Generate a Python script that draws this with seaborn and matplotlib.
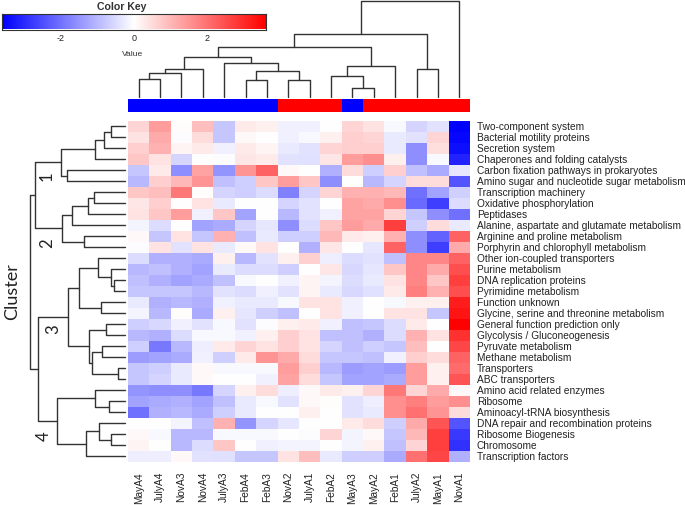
"""clustered heatmap of KEGG categories with dendrograms, seaborn version"""
import matplotlib
matplotlib.use("Agg")
import matplotlib.pyplot as plt
from matplotlib.colors import ListedColormap
import numpy as np
import pandas as pd
import seaborn as sns

sns.set_style("white")
plt.rcParams["font.family"] = ["Liberation Sans", "DejaVu Sans"]
plt.rcParams["axes.unicode_minus"] = False

# ---- data ----
samples = ["MayA4", "JulyA4", "NovA3", "NovA4", "JulyA3", "FebA4", "FebA3", "NovA2",
           "JulyA1", "FebA2", "MayA3", "MayA2", "FebA1", "JulyA2", "MayA1", "NovA1"]
sample_group = [0, 0, 0, 0, 0, 0, 0, 1, 1, 1, 0, 1, 1, 1, 1, 1]  # 0 blue, 1 red

pathways = [
    "Two-component system", "Bacterial motility proteins", "Secretion system",
    "Chaperones and folding catalysts", "Carbon fixation pathways in prokaryotes",
    "Amino sugar and nucleotide sugar metabolism", "Transcription machinery",
    "Oxidative phosphorylation", "Peptidases",
    "Alanine, aspartate and glutamate metabolism", "Arginine and proline metabolism",
    "Porphyrin and chlorophyll metabolism", "Other ion-coupled transporters",
    "Purine metabolism", "DNA replication proteins", "Pyrimidine metabolism",
    "Function unknown", "Glycine, serine and threonine metabolism",
    "General function prediction only", "Glycolysis / Gluconeogenesis",
    "Pyruvate metabolism", "Methane metabolism", "Transporters", "ABC transporters",
    "Amino acid related enzymes", "Ribosome", "Aminoacyl-tRNA biosynthesis",
    "DNA repair and recombination proteins", "Ribosome Biogenesis", "Chromosome",
    "Transcription factors",
]

zscores = [
    [0.6, 1.4, 0.05, 0.9, -0.8, 0.3, 0.2, -0.2, -0.2, 0.0, 0.6, 0.4, -0.1, -0.6, -0.4, -3.6],
    [0.4, 1.2, -0.05, 0.5, -0.8, 0.1, 0.0, -0.2, -0.1, 0.2, 0.7, 0.6, -0.3, -0.4, 0.6, -3.5],
    [0.7, 1.1, 0.15, 0.3, -0.2, 0.3, 0.15, -0.3, -0.4, 0.6, 0.7, 0.7, -0.3, -1.6, 0.45, -3.4],
    [0.8, 0.4, -0.6, 0.0, -0.05, 0.35, 0.3, -0.4, -0.45, 0.35, 1.4, 1.6, 0.2, -1.6, -0.1, -3.1],
    [-0.8, 0.3, -1.6, 1.3, -1.5, 1.5, 2.2, 0.1, 0.0, -1.1, 0.5, -0.7, 0.7, -0.9, -1.2, -0.35],
    [-1.0, 0.7, 1.0, 1.5, -0.9, -0.7, 0.8, 1.4, 0.8, -1.6, 0.0, -1.0, -0.6, 0.5, 0.5, -2.4],
    [0.8, 0.9, 1.9, 0.05, -0.6, -0.7, -0.5, -1.8, -0.6, 0.6, 1.1, 1.1, 1.0, -2.0, -1.3, -0.65],
    [0.35, 0.7, 0.02, 0.4, -0.3, 0.0, 0.0, -0.6, -0.4, 0.0, 1.3, 1.2, 1.6, -2.1, -2.7, -0.5],
    [0.4, 0.8, 1.4, -0.2, 0.8, -1.3, 0.0, -1.0, -0.4, -0.2, 1.3, 1.3, 0.6, -0.8, -1.6, -2.0],
    [-0.15, -0.5, 0.0, -1.3, -1.2, -0.6, -0.35, -1.6, -0.5, 0.8, 1.4, 1.2, 2.7, -0.7, 0.5, -0.3],
    [0.1, -0.8, 0.4, -0.8, 1.1, -0.9, -0.3, -0.7, -0.7, 1.0, 0.3, 0.2, 1.1, -1.6, -2.2, 2.2],
    [-0.05, 0.4, -0.4, 0.4, -0.3, 0.1, 0.4, 0.0, -1.1, 0.35, 0.0, -0.35, 2.2, -1.6, -2.7, 1.2],
    [-0.5, -1.1, -1.1, -1.2, 0.2, -1.0, -0.4, 0.2, 0.65, -0.25, -0.5, -0.4, -0.9, 1.7, 1.7, 2.2],
    [-1.0, -0.9, -1.1, -1.3, -0.3, -0.5, -0.5, -0.7, 0.0, 0.35, -0.55, -0.35, 0.8, 1.7, 1.2, 2.5],
    [-0.9, -1.1, -1.3, -1.2, -0.9, -0.1, 0.0, -0.2, 0.15, -0.15, -0.5, -0.3, 0.4, 1.7, 0.8, 2.7],
    [-0.8, -0.8, -0.8, -1.0, -0.4, -0.5, -0.2, -0.4, 0.15, -0.3, -0.55, -0.45, 0.3, 1.8, 1.1, 2.5],
    [-0.3, -1.1, -1.0, -1.1, -0.2, -0.3, -0.3, -0.1, 0.4, 0.4, -0.2, 0.0, -0.1, 0.2, 0.2, 3.2],
    [-0.15, -1.0, 0.05, -1.2, 0.2, -0.35, -0.7, -0.9, 0.0, 0.4, -0.2, 0.0, 0.4, 0.4, -0.8, 3.3],
    [-0.7, -0.55, -0.2, -0.4, -0.1, -0.4, -0.05, 0.2, 0.3, -0.2, -0.9, -0.8, -0.5, 0.3, 0.0, 3.6],
    [-1.0, -1.1, -0.5, -0.1, -0.1, -0.2, 0.2, 0.7, 0.4, -0.9, -0.9, -1.1, -0.5, 1.1, 0.4, 2.9],
    [-0.7, -1.9, -1.0, -0.25, 0.3, 0.6, 0.4, 0.7, 0.4, -0.6, -0.9, -0.7, -0.8, 0.9, 0.0, 2.6],
    [-1.4, -1.3, -1.2, -0.2, -0.7, 0.3, 1.5, 1.2, 0.5, -0.8, -0.8, -0.9, -0.2, 0.7, 0.5, 2.2],
    [-0.8, -0.7, -0.3, 0.1, -0.1, -0.1, -0.1, 1.4, 0.7, -1.0, -1.4, -1.3, -1.4, 1.4, 0.2, 2.1],
    [-0.8, -0.6, -0.3, 0.1, 0.0, 0.0, -0.2, 1.3, 0.5, -0.8, -1.3, -1.3, -1.2, 1.4, 0.2, 2.4],
    [-1.5, -1.6, -1.6, -1.9, -0.6, 0.2, 0.5, -0.25, 0.1, 0.3, 0.2, 0.6, 1.9, 0.6, 1.2, 0.1],
    [-1.3, -1.2, -1.1, -1.3, -0.9, -0.3, -0.1, -0.4, 0.1, 0.05, -0.4, -0.25, 1.6, 1.8, 1.4, 1.6],
    [-2.0, -1.1, -1.0, -1.2, -0.7, -0.3, 0.0, 0.0, 0.2, 0.0, -0.4, -0.3, 1.6, 2.0, 1.5, 0.5],
    [0.0, 0.0, -0.15, -0.9, 1.1, -1.5, -0.6, -0.35, 0.0, 0.0, 0.3, 0.5, -0.7, 1.2, 2.4, -2.4],
    [0.1, -0.1, -1.0, -1.0, -0.1, -0.1, -0.1, 0.0, -0.05, 0.6, -0.15, 0.1, -0.8, 1.0, 2.7, -2.8],
    [0.15, 0.0, -1.0, -0.5, 0.8, 0.0, -0.2, -0.15, -0.15, 0.0, -0.15, 0.2, -0.9, 0.6, 2.7, -2.9],
    [-0.25, -0.25, 0.1, -0.4, -0.45, -0.8, -0.8, 0.4, 0.9, -0.3, -0.7, -0.7, -1.2, 2.0, 2.6, -1.1],
]

# dendrograms as (left, right, merge height); ints are leaf positions
col_tree = (
    (
        (
            ((((0, 1, 18), 2, 23.3), 3, 27.7),
             (4, ((5, 6, 16.7), (7, 8, 16.7), 25.7), 34), 40),
            ((9, (10, 11, 9), 21), 12, 31), 49.3),
        (13, 14, 27.7), 62.7),
    15, 95.7)

row_tree = (
    (
        ((((0, 1, 14), 2, 20.7), 3, 30), (4, 5, 58.3), 64.3),
        (((((6, 7, 31), 8, 37.3), 9, 53.3)), (10, 11, 40.7), 63.3),
        90),
    (
        (((12, (13, (14, 15, 10.7), 14), 27.3), (16, 17, 24), 46),
         ((18, 19, 19), ((20, 21, 23.3), (22, 23, 6.7), 33.3), 35.7), 56.7),
        ((24, (25, 26, 15.7), 30), ((27, (28, 29, 14), 26), 30, 39.3), 67.7),
        86.7),
    95)

cluster_ids = ["1", "2", "3", "4"]
cluster_pos = [(47, 176), (47.5, 243), (53, 329), (44, 436)]

W, H = 685, 505
LINE = "#333333"


def px_axes(fig, x0, y0, x1, y1):
    """axes from pixel box (left, top, right, bottom)"""
    return fig.add_axes([x0 / W, 1 - y1 / H, (x1 - x0) / W, (y1 - y0) / H])


def draw_tree(ax, node, orient):
    """draw a dendrogram node, returns (position, height)"""
    if isinstance(node, int):
        return node + 0.5, 0.0
    left, right, h = node
    p1, h1 = draw_tree(ax, left, orient)
    p2, h2 = draw_tree(ax, right, orient)
    if orient == "top":
        ax.plot([p1, p1, p2, p2], [h1, h, h, h2], color=LINE, lw=1.0, clip_on=False)
    else:
        ax.plot([h1, h, h, h2], [p1, p1, p2, p2], color=LINE, lw=1.0, clip_on=False)
    return (p1 + p2) / 2, h


fig = plt.figure(figsize=(W / 100, H / 100), dpi=100)

# main heatmap
df = pd.DataFrame(zscores, index=pathways, columns=samples)
ax_hm = px_axes(fig, 128, 120.5, 470, 461.5)
sns.heatmap(df, ax=ax_hm, cmap="bwr", vmin=-3.6, vmax=3.6, cbar=False,
            xticklabels=True, yticklabels=True)
ax_hm.yaxis.tick_right()
ax_hm.set_yticklabels(pathways, rotation=0, fontsize=7.3, color="#222222")
ax_hm.set_xticklabels(samples, rotation=90, fontsize=7.3, color="#222222")
ax_hm.tick_params(axis="y", length=0, pad=5)
ax_hm.tick_params(axis="x", length=0, pad=7.5)
ax_hm.set_xlabel("")
ax_hm.set_ylabel("")

# column side colours
ax_cc = px_axes(fig, 128, 99, 470, 112)
sns.heatmap(pd.DataFrame([sample_group], columns=samples), ax=ax_cc,
            cmap=ListedColormap(["#0000ff", "#ff0000"]), vmin=0, vmax=1,
            cbar=False, xticklabels=False, yticklabels=False)

# column dendrogram
ax_cd = px_axes(fig, 128, 0, 470, 96.7)
draw_tree(ax_cd, col_tree, "top")
ax_cd.set_xlim(0, len(samples))
ax_cd.set_ylim(0, 96.7)
ax_cd.axis("off")

# row dendrogram
ax_rd = px_axes(fig, 25, 120.5, 125, 461.5)
draw_tree(ax_rd, row_tree, "left")
ax_rd.set_xlim(100, 0)
ax_rd.set_ylim(len(pathways), 0)
ax_rd.axis("off")

for lab, (x, y) in zip(cluster_ids, cluster_pos):
    fig.text(x / W, 1 - y / H, lab, rotation=90, ha="center", va="center",
             fontsize=12, family=["Lato", "DejaVu Sans"], color="#222222")
fig.text(12.5 / W, 1 - 292 / H, "Cluster", rotation=90, ha="center", va="center",
         fontsize=13, family=["Lato", "DejaVu Sans"], color="#222222")

# colour key
ax_key = px_axes(fig, 2, 14, 266, 29.5)
grad = np.linspace(-3.6, 3.6, 256)[None, :]
ax_key.imshow(grad, aspect="auto", cmap="bwr", vmin=-3.6, vmax=3.6,
              extent=[-3.6, 3.6, 0, 1])
ax_key.set_yticks([])
ax_key.set_xticks([-2, 0, 2])
ax_key.tick_params(axis="x", length=0, pad=3, labelsize=6.5, labelcolor="#222222")
for s in ax_key.spines.values():
    s.set_color("#333333")
    s.set_linewidth(0.8)
fig.text(122 / W, 1 - 7.5 / H, "Color Key", ha="center", va="center",
         fontsize=7.6, fontweight="bold", color="#333333")
fig.text(133 / W, 1 - 54 / H, "Value", ha="center", va="center",
         fontsize=6.1, color="#333333")

fig.savefig("out.png", dpi=100)
